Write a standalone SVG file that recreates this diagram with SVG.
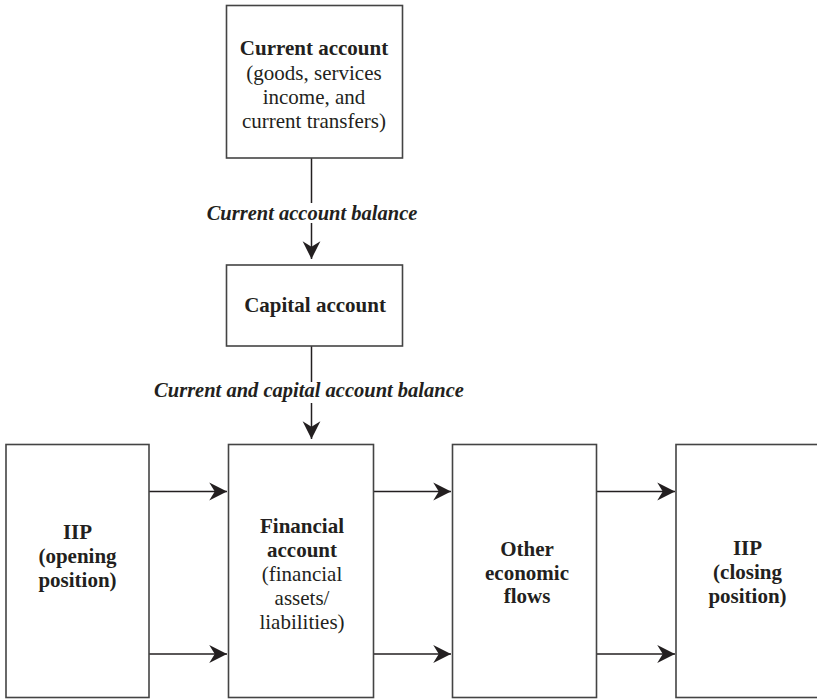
<svg xmlns="http://www.w3.org/2000/svg" width="817" height="699" viewBox="0 0 817 699">
<defs>
<marker id="ah" markerUnits="userSpaceOnUse" markerWidth="20" markerHeight="20" viewBox="-17 -9 18 18" refX="0" refY="0" orient="auto">
<path d="M0,0 L-16,-8 L-11,0 L-16,8 Z" fill="#231f20"/>
</marker>
</defs>
<style>
.box{fill:#fff;stroke:#444;stroke-width:1.6}
.t{font-family:"Liberation Serif","Times New Roman",serif;font-size:21px;fill:#231f20;text-anchor:middle}
.b{font-weight:bold}
.lbl{font-family:"Liberation Serif","Times New Roman",serif;font-size:20.5px;font-weight:bold;font-style:italic;fill:#231f20;text-anchor:middle}
.ln{stroke:#231f20;stroke-width:1.5;fill:none}
</style>
<rect width="817" height="699" fill="#fff"/>
<g id="connectors">
<line class="ln" x1="311.5" y1="158" x2="311.5" y2="203"/>
<line class="ln" x1="311.5" y1="223" x2="311.5" y2="259" marker-end="url(#ah)"/>
<line class="ln" x1="311.5" y1="346" x2="311.5" y2="382"/>
<line class="ln" x1="311.5" y1="403" x2="311.5" y2="439" marker-end="url(#ah)"/>
<line class="ln" x1="149" y1="491.5" x2="227" y2="491.5" marker-end="url(#ah)"/>
<line class="ln" x1="149" y1="654" x2="227" y2="654" marker-end="url(#ah)"/>
<line class="ln" x1="373.5" y1="491.5" x2="451" y2="491.5" marker-end="url(#ah)"/>
<line class="ln" x1="373.5" y1="654" x2="451" y2="654" marker-end="url(#ah)"/>
<line class="ln" x1="596.5" y1="491.5" x2="675" y2="491.5" marker-end="url(#ah)"/>
<line class="ln" x1="596.5" y1="654" x2="675" y2="654" marker-end="url(#ah)"/>
<text class="lbl" x="312" y="220">Current account balance</text>
<text class="lbl" x="309" y="397">Current and capital account balance</text>
</g>
<g id="current-account">
<rect class="box" x="226.5" y="5.5" width="176" height="152.5"/>
<text class="t b" x="314" y="55">Current account</text>
<text class="t" x="314" y="80">(goods, services</text>
<text class="t" x="314" y="104">income, and</text>
<text class="t" x="314" y="128">current transfers)</text>
</g>
<g id="capital-account">
<rect class="box" x="226.5" y="265" width="176" height="81"/>
<text class="t b" x="315" y="312">Capital account</text>
</g>
<g id="iip-opening">
<rect class="box" x="6" y="444.5" width="143" height="253"/>
<text class="t b" x="77.5" y="539">IIP</text>
<text class="t b" x="77.5" y="563">(opening</text>
<text class="t b" x="77.5" y="587">position)</text>
</g>
<g id="financial-account">
<rect class="box" x="228.5" y="444.5" width="145" height="253"/>
<text class="t b" x="302" y="533">Financial</text>
<text class="t b" x="302" y="557">account</text>
<text class="t" x="302" y="581">(financial</text>
<text class="t" x="302" y="605">assets/</text>
<text class="t" x="302" y="629">liabilities)</text>
</g>
<g id="other-flows">
<rect class="box" x="452.5" y="444.5" width="144" height="253"/>
<text class="t b" x="527" y="556">Other</text>
<text class="t b" x="527" y="580">economic</text>
<text class="t b" x="527" y="603">flows</text>
</g>
<g id="iip-closing">
<rect class="box" x="676" y="444.5" width="145" height="253"/>
<text class="t b" x="747.5" y="555">IIP</text>
<text class="t b" x="747.5" y="579">(closing</text>
<text class="t b" x="747.5" y="603">position)</text>
</g>
</svg>
